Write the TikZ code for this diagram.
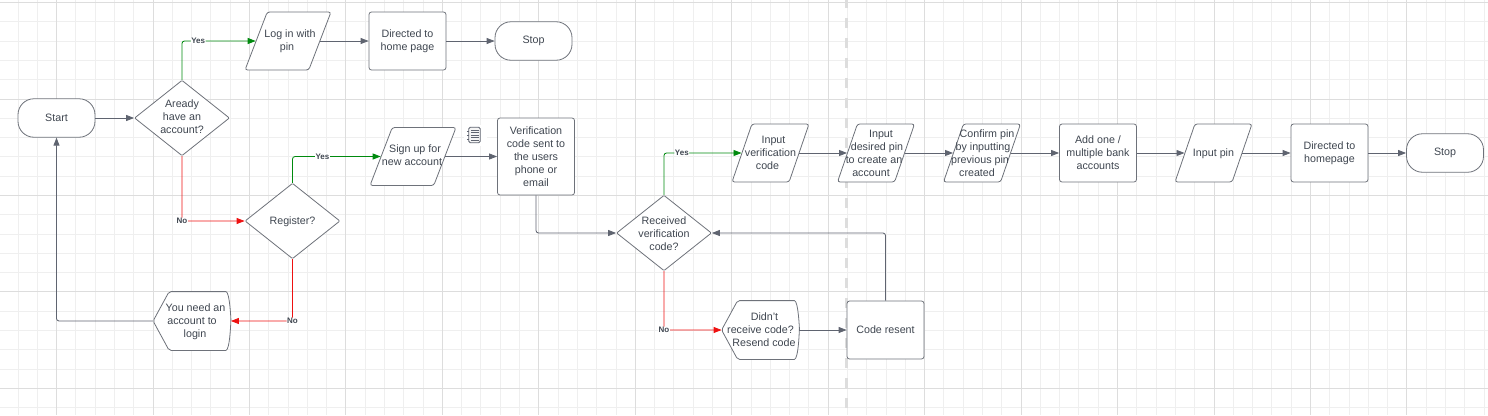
\documentclass[tikz,border=0pt]{standalone}
\usepackage{fontspec}
\setmainfont{Liberation Sans}
\usetikzlibrary{arrows.meta,shapes.geometric,backgrounds}
\definecolor{inkgray}{HTML}{3F4650}
\definecolor{linegray}{HTML}{5F6470}
\definecolor{boxgray}{HTML}{6E727A}
\definecolor{gridminor}{HTML}{EFEFEF}
\definecolor{gridmajor}{HTML}{DDDDDD}
\definecolor{yesgreen}{HTML}{008A0E}
\definecolor{nored}{HTML}{EE1111}
% text of a shape that must not grow with it
\newcommand{\ztext}[2][3.5]{\raisebox{-#1pt}[1pt][1pt]{\makebox[1pt]{\begin{tabular}{@{}c@{}}#2\end{tabular}}}}
\newcommand{\nudge}[2]{\hspace*{#1pt}#2}
\tikzset{
  shapebase/.style={draw=boxgray,fill=white,line width=0.8pt,text=inkgray,inner sep=0pt,font=\fontsize{10.7}{13}\selectfont},
  procbox/.style={shapebase,rectangle,rounded corners=2.5pt,align=center,minimum width=77pt,minimum height=58pt},
  endbox/.style={shapebase,rectangle,rounded corners=16pt,minimum width=77pt,minimum height=38.5pt},
  inputbox/.style={shapebase,trapezium,trapezium left angle=75,trapezium right angle=105,trapezium stretches=true,rounded corners=2.5pt,minimum height=58pt},
  choice/.style={shapebase,diamond,rounded corners=1pt,minimum width=95pt,minimum height=75.5pt},
  displaybox/.style={shapebase,draw=none,fill=none,rectangle,minimum width=77pt,minimum height=58pt},
  flow/.style={-{Triangle[length=8pt,width=6pt]},line width=0.85pt,linegray,rounded corners=2.5pt},
  yesflow/.style={flow,yesgreen},
  noflow/.style={flow,nored},
  flowtag/.style={fill=white,text=inkgray,inner sep=0.5pt,font=\fontsize{8}{10}\selectfont\bfseries},
}
\begin{document}
\begin{tikzpicture}[x=1pt,y=-1pt]
\useasboundingbox (0,0) rectangle (1488,415);
% grid
\begin{pgfonlayer}{background}
\foreach \i in {0,...,79} {
  \draw[gridminor,line width=1pt] ({-39.85+\i*19.29},0) -- ++(0,415);
}
\foreach \i in {0,...,22} {
  \draw[gridminor,line width=1pt] (0,{2.7+\i*19.28}) -- ++(1488,0);
}
\foreach \i in {0,...,15} {
  \draw[gridmajor,line width=1pt] ({56.6+\i*96.45},0) -- ++(0,415);
}
\foreach \i in {0,...,4} {
  \draw[gridmajor,line width=1pt] (0,{2.7+\i*96.4}) -- ++(1488,0);
}
\draw[gridmajor,line width=3pt,dash pattern=on 10pt off 10pt,dash phase=1.7pt] (846.5,0) -- (846.5,415);
\end{pgfonlayer}
% top row
\node[endbox] (start) at (56.5,118) {Start};
\node[choice] (have) at (182,118) {\ztext[2.5]{Aready\\have an\\account?}};
\node[inputbox,minimum width=86pt] (login) at (288,41) {\ztext{\nudge{4}{Log in with}\\\nudge{-2}{pin}}};
\node[procbox] (home) at (407.5,41) {Directed to\\home page};
\node[endbox] (stopa) at (533.5,41) {Stop};
% register branch
\node[choice] (reg) at (292.5,221) {\ztext{Register?}};
\node[inputbox,minimum width=86pt] (sign) at (413,156.5) {\ztext[3]{\nudge{4}{Sign up for}\\\nudge{-2}{new account}}};
\node[procbox,minimum height=77pt] (sent) at (536,156.5) {Verification\\code sent to\\the users\\phone or\\email};
\node[displaybox] (need) at (192,321) {\ztext{\nudge{7}{You need an}\\account to\\\nudge{6}{login}}};
% verification branch
\node[choice] (recv) at (664,233) {\ztext[5]{Received\\verification\\code?}};
\node[displaybox] (resend) at (760.5,330) {\ztext{\nudge{8}{Didn't}\\receive code?\\\nudge{7}{Resend code}}};
\node[procbox] (code) at (885.5,330) {Code resent};
% second row
\node[inputbox,minimum width=77pt] (enter) at (770.5,153) {\ztext{\nudge{6}{Input}\\verification\\\nudge{-6}{code}}};
\node[inputbox,minimum width=77pt] (desired) at (876,153) {\ztext[4.5]{\nudge{10}{Input}\\\nudge{2}{desired pin}\\\nudge{-4}{to create an}\\\nudge{-10}{account}}};
\node[inputbox,minimum width=77pt] (confirm) at (982,153) {\ztext[4.5]{\nudge{10}{Confirm pin}\\\nudge{2}{by inputting}\\\nudge{-4}{previous pin}\\\nudge{-10}{created}}};
\node[procbox] (bank) at (1098,153) {Add one /\\multiple bank\\accounts};
\node[inputbox,minimum width=77pt] (pin) at (1213.5,153) {\ztext[4]{Input pin}};
\node[procbox] (homepage) at (1329.5,153) {Directed to\\homepage};
\node[endbox] (stopb) at (1445,153) {Stop};
% outlines of the two display shapes
\begin{pgfonlayer}{background}
\foreach \n in {need,resend} {
  \draw[boxgray,line width=0.8pt,fill=white,rounded corners=2pt] (\n.west) -- ([xshift=16pt]\n.north west) -- ([xshift=-7pt]\n.north east)
    .. controls ([xshift=-1pt]\n.north east) and (\n.east) .. (\n.east)
    .. controls (\n.east) and ([xshift=-1pt]\n.south east) .. ([xshift=-7pt]\n.south east) -- ([xshift=16pt]\n.south west) -- cycle;
}
\end{pgfonlayer}
% notepad icon
\node[fill=white,minimum width=23pt,minimum height=21pt,inner sep=0pt] (notehalo) at (475,135) {};
\node[draw=linegray,fill=gridminor!60,rounded corners=1.5pt,line width=0.9pt,minimum width=11.5pt,minimum height=15.5pt,inner sep=0pt] (note) at (474.5,135) {};
\foreach \k in {-5,-2.5,0,2.5,5} {
  \draw[linegray,line width=0.7pt] ([xshift=2.5pt,yshift=\k pt]note.west) -- ([xshift=-2pt,yshift=\k pt]note.east);
}
\foreach \k in {-4,0,4} {
  \draw[linegray,line width=0.8pt] ([xshift=-1.5pt,yshift=\k pt]note.west) -- ([xshift=1pt,yshift=\k pt]note.west);
}
% connectors
\draw[flow] (start) -- (have);
\draw[yesflow] (have.north) |- (login.west) node[flowtag,pos=0.61] (tagy) {Yes};
\draw[noflow] (have.south) |- (reg.west) node[flowtag,pos=0.5] (tagn) {No};
\draw[flow] (login.east) -- (home);
\draw[flow] (home) -- (stopa);
\draw[yesflow] (reg.north) |- (sign.west) node[flowtag,pos=0.67] (tagreg) {Yes};
\draw[noflow] (reg.south) |- (need.east) node[flowtag,pos=0.5] (tagneed) {No};
\draw[flow] (need.west) -| (start.south);
\draw[flow] (sign.east) -- (sent);
\draw[flow] (sent.south) |- (recv.west);
\draw[yesflow] (recv.north) |- (enter.west) node[flowtag,pos=0.615] (tagrecv) {Yes};
\draw[noflow] (recv.south) |- (resend.west) node[flowtag,pos=0.5] (tagres) {No};
\draw[flow] (resend.east) -- (code.west);
\draw[flow] (code.north) |- (recv.east);
\draw[flow] (enter.east) -- (desired.west);
\draw[flow] (desired.east) -- (confirm.west);
\draw[flow] (confirm.east) -- (bank.west);
\draw[flow] (bank.east) -- (pin.west);
\draw[flow] (pin.east) -- (homepage.west);
\draw[flow] (homepage.east) -- (stopb.west);
\end{tikzpicture}
\end{document}
